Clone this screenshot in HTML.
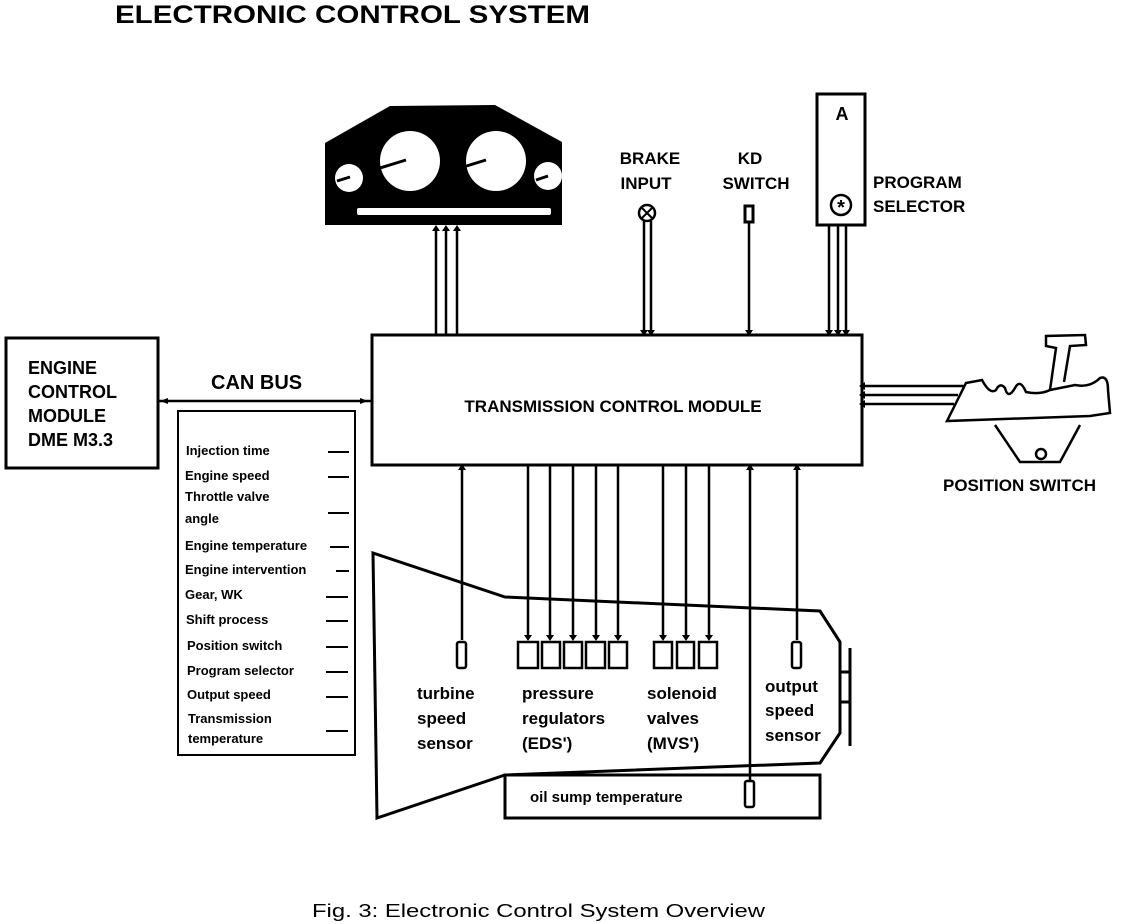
<!DOCTYPE html>
<html><head><meta charset="utf-8"><style>
html,body{margin:0;padding:0;background:#fff;}
svg{display:block;}
text{font-family:"Liberation Sans",Arial,sans-serif;fill:#000;}
.b{font-weight:bold;}
</style></head><body>
<svg width="1136" height="924" viewBox="0 0 1136 924" xmlns="http://www.w3.org/2000/svg">
<defs>
<marker id="ah" markerWidth="6" markerHeight="8" refX="3" refY="4" orient="auto-start-reverse" markerUnits="userSpaceOnUse">
<path d="M0,0 L6,4 L0,8 Z" fill="#000"/></marker>
</defs>
<text x="115" y="23" class="b" font-size="25" textLength="475" lengthAdjust="spacingAndGlyphs">ELECTRONIC CONTROL SYSTEM</text>

<!-- ECM -->
<rect x="6" y="338" width="152" height="130" fill="none" stroke="#000" stroke-width="3"/>
<g class="b" font-size="18">
<text x="28" y="374">ENGINE</text><text x="28" y="398">CONTROL</text><text x="28" y="422">MODULE</text><text x="28" y="446">DME M3.3</text>
</g>
<line x1="158" y1="401" x2="372" y2="401" stroke="#000" stroke-width="2.5"/>
<path d="M168,398 L160,401 L168,404Z M360,398 L368,401 L360,404Z" fill="#000"/>
<text x="211" y="389" class="b" font-size="20">CAN BUS</text>

<!-- signal list -->
<rect x="178" y="411" width="177" height="344" fill="none" stroke="#000" stroke-width="2"/>
<g font-size="13" class="b">
<text x="186" y="455">Injection time</text>
<text x="185" y="480">Engine speed</text>
<text x="185" y="501">Throttle valve</text>
<text x="185" y="523">angle</text>
<text x="185" y="550">Engine temperature</text>
<text x="185" y="574">Engine intervention</text>
<text x="185" y="599">Gear, WK</text>
<text x="186" y="624">Shift process</text>
<text x="187" y="650">Position switch</text>
<text x="187" y="675">Program selector</text>
<text x="187" y="699">Output speed</text>
<text x="188" y="723">Transmission</text>
<text x="188" y="743">temperature</text>
</g>
<g stroke="#000" stroke-width="2">
<line x1="328" y1="452" x2="349" y2="452"/><line x1="328" y1="477" x2="349" y2="477"/>
<line x1="328" y1="513" x2="349" y2="513"/><line x1="330" y1="547" x2="349" y2="547"/>
<line x1="336" y1="571" x2="349" y2="571"/><line x1="326" y1="597" x2="348" y2="597"/>
<line x1="326" y1="621" x2="348" y2="621"/><line x1="326" y1="647" x2="348" y2="647"/>
<line x1="326" y1="672" x2="348" y2="672"/><line x1="326" y1="697" x2="348" y2="697"/>
<line x1="326" y1="731" x2="348" y2="731"/>
</g>

<!-- TCM -->
<rect x="372" y="335" width="490" height="130" fill="none" stroke="#000" stroke-width="3"/>
<text x="613" y="412" class="b" font-size="17" text-anchor="middle">TRANSMISSION CONTROL MODULE</text>

<!-- cluster -->
<path d="M325,143 L390,106 L495,105 L562,142 L562,225 L325,225 Z" fill="#000"/>
<g fill="#fff">
<circle cx="410" cy="161" r="30"/><circle cx="496" cy="161" r="30"/>
<circle cx="349" cy="178" r="14"/><circle cx="548" cy="176" r="14"/>
<rect x="357" y="208" width="194" height="7" rx="2"/>
</g>
<g stroke="#000" stroke-width="3">
<line x1="380" y1="168" x2="406" y2="160"/><line x1="460" y1="168" x2="486" y2="160"/>
<line x1="337" y1="181" x2="350" y2="177"/><line x1="536" y1="180" x2="548" y2="176"/>
</g>
<g stroke="#000" stroke-width="2.5">
<line x1="436" y1="228" x2="436" y2="335" marker-start="url(#ah)"/>
<line x1="446" y1="228" x2="446" y2="335" marker-start="url(#ah)"/>
<line x1="457" y1="228" x2="457" y2="335" marker-start="url(#ah)"/>
</g>

<!-- brake -->
<g class="b" font-size="17" text-anchor="middle">
<text x="650" y="164">BRAKE</text><text x="646" y="189">INPUT</text>
<text x="750" y="164">KD</text><text x="756" y="189">SWITCH</text>
</g>
<circle cx="647" cy="213" r="8" fill="#fff" stroke="#000" stroke-width="2.5"/>
<path d="M641,207 L653,219 M653,207 L641,219" stroke="#000" stroke-width="2"/>
<g stroke="#000" stroke-width="2.5">
<line x1="644" y1="221" x2="644" y2="333" marker-end="url(#ah)"/>
<line x1="651" y1="221" x2="651" y2="333" marker-end="url(#ah)"/>
<line x1="749" y1="222" x2="749" y2="333" marker-end="url(#ah)"/>
</g>
<rect x="745" y="206" width="8" height="16" fill="#fff" stroke="#000" stroke-width="3"/>

<!-- program selector -->
<rect x="817" y="94" width="48" height="131" fill="#fff" stroke="#000" stroke-width="3"/>
<text x="842" y="120" class="b" font-size="18" text-anchor="middle">A</text>
<circle cx="841" cy="205" r="10" fill="none" stroke="#000" stroke-width="2.5"/>
<text x="841" y="214" class="b" font-size="20" text-anchor="middle">*</text>
<g stroke="#000" stroke-width="2.5">
<line x1="829" y1="226" x2="829" y2="333" marker-end="url(#ah)"/>
<line x1="838" y1="226" x2="838" y2="333" marker-end="url(#ah)"/>
<line x1="846" y1="226" x2="846" y2="333" marker-end="url(#ah)"/>
</g>
<g class="b" font-size="17"><text x="873" y="188">PROGRAM</text><text x="873" y="212">SELECTOR</text></g>

<!-- position switch -->
<g stroke="#000" stroke-width="2.5" fill="none">
<line x1="862" y1="386" x2="964" y2="386" marker-start="url(#ah)"/>
<line x1="862" y1="395" x2="958" y2="395" marker-start="url(#ah)"/>
<line x1="862" y1="404" x2="954" y2="404" marker-start="url(#ah)"/>
<path d="M947,421 L966,383 L982,380 Q990,395 996,390 Q1000,382 1005,388 Q1008,400 1015,388 Q1020,378 1026,392 Q1040,395 1050,390 L1075,385 Q1090,388 1100,378 Q1108,375 1108,390 L1110,413 L1090,416 Z"/>
<path d="M1050,390 L1056,348 L1046,346 L1046,336 L1085,335 L1086,345 L1070,346 L1064,382"/>
<path d="M995,425 L1020,462 L1060,462 L1080,425"/>
<circle cx="1041" cy="454" r="5"/>
</g>
<text x="943" y="491" class="b" font-size="17">POSITION SWITCH</text>

<!-- transmission -->
<g stroke="#000" stroke-width="3" fill="none">
<path d="M373,553 L505,597 L820,611 L840,642 L840,733 L820,763 L505,775 L377,818 L373,553 Z"/>
<rect x="505" y="775" width="315" height="43"/>
<line x1="850" y1="648" x2="850" y2="746"/>
<rect x="840" y="672" width="10" height="30"/>
</g>
<text x="530" y="802" class="b" font-size="15">oil sump temperature</text>

<g stroke="#000" stroke-width="2.5">
<line x1="462" y1="467" x2="462" y2="640" marker-start="url(#ah)"/>
<line x1="797" y1="467" x2="797" y2="640" marker-start="url(#ah)"/>
<line x1="750" y1="467" x2="750" y2="780" marker-start="url(#ah)"/>
<line x1="528" y1="465" x2="528" y2="638" marker-end="url(#ah)"/>
<line x1="550" y1="465" x2="550" y2="638" marker-end="url(#ah)"/>
<line x1="573" y1="465" x2="573" y2="638" marker-end="url(#ah)"/>
<line x1="596" y1="465" x2="596" y2="638" marker-end="url(#ah)"/>
<line x1="618" y1="465" x2="618" y2="638" marker-end="url(#ah)"/>
<line x1="663" y1="465" x2="663" y2="638" marker-end="url(#ah)"/>
<line x1="686" y1="465" x2="686" y2="638" marker-end="url(#ah)"/>
<line x1="709" y1="465" x2="709" y2="638" marker-end="url(#ah)"/>
</g>
<g fill="#fff" stroke="#000" stroke-width="2.5">
<rect x="457" y="642" width="9" height="26" rx="2"/>
<rect x="792" y="642" width="9" height="26" rx="2"/>
<rect x="745" y="781" width="9" height="26" rx="2"/>
<rect x="518" y="642" width="20" height="26"/><rect x="542" y="642" width="18" height="26"/>
<rect x="564" y="642" width="18" height="26"/><rect x="586" y="642" width="19" height="26"/>
<rect x="609" y="642" width="18" height="26"/>
<rect x="654" y="642" width="18" height="26"/><rect x="677" y="642" width="17" height="26"/>
<rect x="699" y="642" width="18" height="26"/>
</g>
<g class="b" font-size="17">
<text x="417" y="699">turbine</text><text x="417" y="724">speed</text><text x="417" y="749">sensor</text>
<text x="522" y="699">pressure</text><text x="522" y="724">regulators</text><text x="522" y="749">(EDS')</text>
<text x="647" y="699">solenoid</text><text x="647" y="724">valves</text><text x="647" y="749">(MVS')</text>
<text x="765" y="692">output</text><text x="765" y="716">speed</text><text x="765" y="741">sensor</text>
</g>

<text x="312" y="917" font-size="18" textLength="453" lengthAdjust="spacingAndGlyphs">Fig. 3: Electronic Control System Overview</text>
</svg>
</body></html>
